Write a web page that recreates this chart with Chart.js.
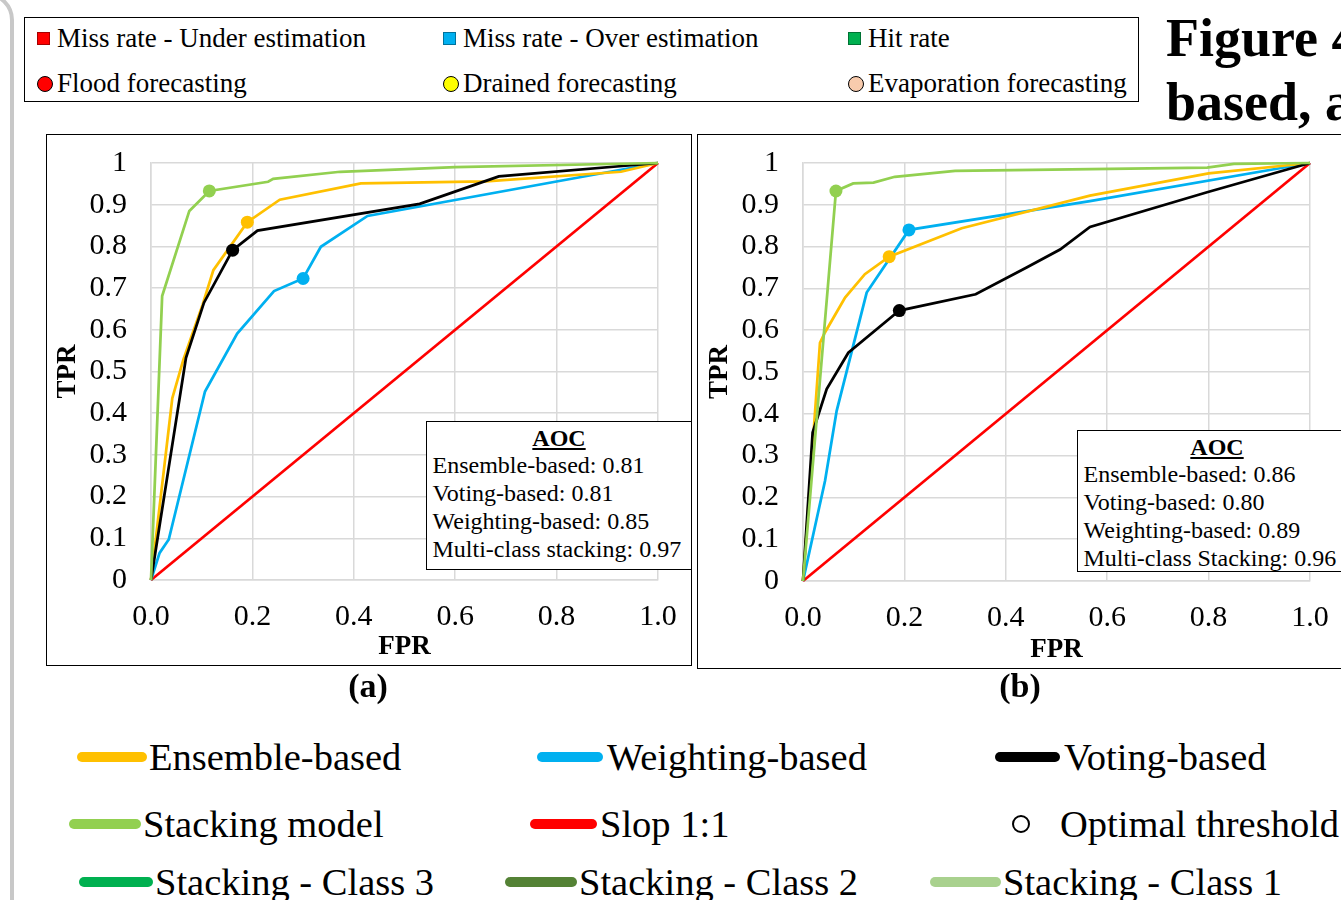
<!DOCTYPE html>
<html>
<head>
<meta charset="utf-8">
<script src="https://cdn.jsdelivr.net/npm/chart.js@4.4.1/dist/chart.umd.min.js"></script>
<style>
html,body{margin:0;padding:0;background:#fff;}
body{width:1341px;height:900px;overflow:hidden;position:relative;font-family:"Liberation Serif","Times New Roman",serif;color:#000;}
.abs{position:absolute;white-space:nowrap;}
.frame{position:absolute;border:1.5px solid #000;box-sizing:border-box;pointer-events:none;background:transparent;}
canvas{position:absolute;}
.txt{position:absolute;white-space:nowrap;line-height:1;}
</style>
</head>
<body>
<div id="sideLine" class="abs" style="left:-200px;top:-8px;width:214px;height:1000px;border:4px solid #c8c8c8;border-radius:0 28px 0 0;box-sizing:border-box;"></div>

<div id="topLegend" class="frame" style="left:24px;top:17px;width:1115px;height:85px;"></div>

<div class="txt" style="left:1166px;top:11px;font-size:54px;font-weight:bold;">Figure 4</div>
<div class="txt" style="left:1166px;top:75px;font-size:54px;font-weight:bold;">based, a</div>

<canvas id="chartA" width="645" height="530" style="left:47px;top:135px;"></canvas>
<div class="frame" style="left:46px;top:134px;width:646px;height:532px;"></div>
<canvas id="chartB" width="660" height="534" style="left:698px;top:135px;"></canvas>
<div class="frame" style="left:697px;top:134px;width:700px;height:535px;"></div>

<div id="aocA" class="frame" style="left:426px;top:421px;width:266px;height:149px;background:#fff;"></div>
<div id="aocB" class="frame" style="left:1077px;top:430px;width:280px;height:142px;background:#fff;"></div>

<div class="txt" style="left:368px;top:669px;font-size:34px;font-weight:bold;transform:translateX(-50%);">(a)</div>
<div class="txt" style="left:1020px;top:669px;font-size:34px;font-weight:bold;transform:translateX(-50%);">(b)</div>

<div id="bottomLegend"></div>

<script>
// ---------- DATA ----------
const xTickLabels = ['0.0', '0.2', '0.4', '0.6', '0.8', '1.0'];
const yTickLabels = ['0', '0.1', '0.2', '0.3', '0.4', '0.5', '0.6', '0.7', '0.8', '0.9', '1'];

// Chart (a)
const ensembleA_fpr = [0, 0.042, 0.064, 0.102, 0.123, 0.19, 0.254, 0.414, 0.661, 0.927, 1];
const ensembleA_tpr = [0, 0.436, 0.529, 0.661, 0.743, 0.858, 0.912, 0.951, 0.956, 0.979, 1];
const votingA_fpr = [0, 0.069, 0.1045, 0.161, 0.21, 0.53, 0.686, 1];
const votingA_tpr = [0, 0.533, 0.665, 0.791, 0.838, 0.902, 0.968, 1];
const weightingA_fpr = [0, 0.017, 0.035, 0.1065, 0.17, 0.2426, 0.30, 0.335, 0.427, 1];
const weightingA_tpr = [0, 0.065, 0.097, 0.452, 0.591, 0.693, 0.723, 0.799, 0.873, 1];
const stackingA_fpr = [0, 0.022, 0.0756, 0.115, 0.231, 0.241, 0.373, 0.6, 1];
const stackingA_tpr = [0, 0.681, 0.885, 0.933, 0.955, 0.962, 0.979, 0.99, 1];
// optimal thresholds: [ensemble, voting, weighting, stacking]
const optimalA_fpr = [0.19, 0.161, 0.30, 0.115];
const optimalA_tpr = [0.858, 0.791, 0.723, 0.933];

// Chart (b)
const ensembleB_fpr = [0, 0.0335, 0.043, 0.083, 0.122, 0.17, 0.313, 0.566, 0.80, 1];
const ensembleB_tpr = [0, 0.57, 0.594, 0.678, 0.734, 0.776, 0.844, 0.922, 0.975, 1];
const votingB_fpr = [0, 0.019, 0.0467, 0.0894, 0.19, 0.3406, 0.441, 0.507, 0.566, 0.797, 1];
const votingB_tpr = [0, 0.355, 0.459, 0.546, 0.647, 0.686, 0.75, 0.793, 0.847, 0.93, 1];
const weightingB_fpr = [0, 0.0434, 0.0664, 0.1256, 0.209, 0.566, 1];
const weightingB_tpr = [0, 0.239, 0.407, 0.69, 0.84, 0.909, 1];
const stackingB_fpr = [0, 0.065, 0.099, 0.139, 0.181, 0.30, 0.797, 0.85, 1];
const stackingB_tpr = [0, 0.933, 0.951, 0.953, 0.967, 0.981, 0.989, 0.998, 1];
const optimalB_fpr = [0.17, 0.19, 0.209, 0.065];
const optimalB_tpr = [0.776, 0.647, 0.84, 0.933];

const slope_fpr = [0, 1];
const slope_tpr = [0, 1];

const aocTitle = 'AOC';
const aocLabelsA = ['Ensemble-based', 'Voting-based', 'Weighting-based', 'Multi-class stacking'];
const aocValuesA = ['0.81', '0.81', '0.85', '0.97'];
const aocLabelsB = ['Ensemble-based', 'Voting-based', 'Weighting-based', 'Multi-class Stacking'];
const aocValuesB = ['0.86', '0.80', '0.89', '0.96'];

const topLegendLabels = ['Miss rate - Under estimation', 'Miss rate - Over estimation', 'Hit rate',
                         'Flood forecasting', 'Drained forecasting', 'Evaporation forecasting'];
const bottomLegendLabels = ['Ensemble-based', 'Weighting-based', 'Voting-based',
                            'Stacking model', 'Slop 1:1', 'Optimal threshold',
                            'Stacking - Class 3', 'Stacking - Class 2', 'Stacking - Class 1'];

// ---------- STYLES ----------
const C = { ens: '#FFC000', wgt: '#00B0F0', vot: '#000000', stk: '#92D050', red: '#FF0000' };
const optColors = [C.ens, C.vot, C.wgt, C.stk];
const topLegendColors = ['#FF0000', '#00B0F0', '#00B050', '#FF0000', '#FFFF00', '#F8CBAD'];
const bottomLegendColors = [C.ens, C.wgt, C.vot, C.stk, C.red, null, '#00B050', '#548235', '#A9D18E'];

// ---------- LEGENDS / TEXT ----------
(function () {
  const tl = document.getElementById('topLegend');
  const colX = [12, 418, 823];
  const rowY = [21, 66];
  topLegendLabels.forEach((lab, i) => {
    const r = Math.floor(i / 3), c = i % 3;
    const mk = document.createElement('div');
    mk.className = 'abs';
    if (r === 0) {
      mk.style.cssText = `left:${colX[c]}px;top:${rowY[r] - 7}px;width:13px;height:13px;background:${topLegendColors[i]};border:1px solid rgba(0,0,0,0.35);box-sizing:border-box;`;
    } else {
      mk.style.cssText = `left:${colX[c]}px;top:${rowY[r] - 8}px;width:16px;height:16px;border-radius:50%;background:${topLegendColors[i]};border:1.5px solid #000;box-sizing:border-box;`;
    }
    tl.appendChild(mk);
    const t = document.createElement('div');
    t.className = 'txt';
    t.style.cssText += `left:${colX[c] + 20}px;top:${rowY[r] - 14}px;font-size:27px;`;
    t.textContent = lab;
    tl.appendChild(t);
  });

  const bl = document.getElementById('bottomLegend');
  const lineX = [[77, 147], [537, 603], [995, 1060], [69, 141], [530, 597], null, [79, 153], [505, 577], [930, 1001]];
  const textX = [149, 607, 1064, 143, 600, 1060, 155, 579, 1003];
  const rowC = [757, 824, 882];
  bottomLegendLabels.forEach((lab, i) => {
    const r = Math.floor(i / 3);
    const cy = rowC[r];
    const mk = document.createElement('div');
    mk.className = 'abs';
    if (lineX[i]) {
      const [a, b] = lineX[i];
      mk.style.cssText = `left:${a}px;top:${cy - 5}px;width:${b - a}px;height:10px;border-radius:5px;background:${bottomLegendColors[i]};`;
    } else {
      mk.style.cssText = `left:1012px;top:${cy - 9}px;width:18px;height:18px;border-radius:50%;border:2px solid #000;box-sizing:border-box;background:#fff;`;
    }
    bl.appendChild(mk);
    const t = document.createElement('div');
    t.className = 'txt';
    t.style.cssText = `left:${textX[i]}px;top:${cy - 19}px;font-size:38.5px;`;
    t.textContent = lab;
    bl.appendChild(t);
  });

  function fillAoc(id, labels, values) {
    const box = document.getElementById(id);
    const h = document.createElement('div');
    h.className = 'txt';
    h.style.cssText = 'left:0;width:100%;text-align:center;top:4px;font-size:24px;font-weight:bold;text-decoration:underline;';
    h.textContent = aocTitle;
    box.appendChild(h);
    labels.forEach((lab, i) => {
      const t = document.createElement('div');
      t.className = 'txt';
      t.style.cssText = `left:5.5px;top:${31 + i * 28}px;font-size:24px;`;
      t.textContent = lab + ': ' + values[i];
      box.appendChild(t);
    });
  }
  fillAoc('aocA', aocLabelsA, aocValuesA);
  fillAoc('aocB', aocLabelsB, aocValuesB);
})();

// ---------- CHARTS ----------
function pts(xs, ys) { return xs.map((x, i) => ({ x: x, y: ys[i] })); }
function lineDs(label, xs, ys, color, w) {
  return { label: label, data: pts(xs, ys), showLine: true, borderColor: color, backgroundColor: color,
           borderWidth: w || 2.75, pointRadius: 0, pointHoverRadius: 0, tension: 0, clip: false };
}

function makeChart(id, d, geom) {
  const FONT = '"Liberation Serif", "Times New Roman", serif';
  return new Chart(document.getElementById(id), {
    type: 'scatter',
    data: {
      datasets: [
        { label: 'Optimal threshold', data: pts(d.optF, d.optT), showLine: false,
          pointRadius: 6.5, pointHoverRadius: 6.5, pointBorderWidth: 0,
          pointBackgroundColor: optColors, pointBorderColor: optColors, clip: false },
        lineDs('Stacking model', d.stkF, d.stkT, C.stk),
        lineDs('Voting-based', d.votF, d.votT, C.vot),
        lineDs('Ensemble-based', d.ensF, d.ensT, C.ens),
        lineDs('Weighting-based', d.wgtF, d.wgtT, C.wgt),
        lineDs('Slop 1:1', slope_fpr, slope_tpr, C.red, 2.75)
      ]
    },
    options: {
      responsive: false,
      animation: false,
      events: [],
      layout: { autoPadding: false, padding: { left: 0, top: geom.top, right: geom.right, bottom: 0 } },
      plugins: { legend: { display: false }, tooltip: { enabled: false } },
      scales: {
        x: {
          type: 'linear', min: 0, max: 1,
          afterFit: (s) => { s.height = geom.xh; s.paddingLeft = 0; s.paddingRight = 0; },
          afterBuildTicks: (s) => { s.ticks = xTickLabels.map(v => ({ value: parseFloat(v) })); },
          ticks: { callback: (v, i) => xTickLabels[i], color: '#000', padding: 19,
                   font: { family: FONT, size: 30 }, maxRotation: 0, autoSkip: false },
          grid: { color: '#d9d9d9', lineWidth: 1.5, drawTicks: false },
          border: { display: true, color: '#d9d9d9', width: 1.5 },
          title: { display: true, text: 'FPR', color: '#000', padding: { top: 0, bottom: geom.xtp },
                   font: { family: FONT, size: 27, weight: 'bold' } }
        },
        y: {
          type: 'linear', min: 0, max: 1,
          afterFit: (s) => { s.width = geom.yw; s.paddingTop = 0; s.paddingBottom = 0; },
          afterBuildTicks: (s) => { s.ticks = yTickLabels.map(v => ({ value: parseFloat(v) })); },
          ticks: { callback: (v, i) => yTickLabels[i], color: '#000', padding: 24,
                   font: { family: FONT, size: 30 }, autoSkip: false },
          grid: { color: '#d9d9d9', lineWidth: 1.5, drawTicks: false },
          border: { display: true, color: '#d9d9d9', width: 1.5 },
          title: { display: true, text: 'TPR', color: '#000', padding: { top: geom.ytp, bottom: 0 },
                   font: { family: FONT, size: 27, weight: 'bold' } }
        }
      }
    }
  });
}

makeChart('chartA', {
  ensF: ensembleA_fpr, ensT: ensembleA_tpr, votF: votingA_fpr, votT: votingA_tpr,
  wgtF: weightingA_fpr, wgtT: weightingA_tpr, stkF: stackingA_fpr, stkT: stackingA_tpr,
  optF: optimalA_fpr, optT: optimalA_tpr
}, { top: 28, right: 34, xh: 85, yw: 104, xtp: 2, ytp: 5 });

makeChart('chartB', {
  ensF: ensembleB_fpr, ensT: ensembleB_tpr, votF: votingB_fpr, votT: votingB_tpr,
  wgtF: weightingB_fpr, wgtT: weightingB_tpr, stkF: stackingB_fpr, stkT: stackingB_tpr,
  optF: optimalB_fpr, optT: optimalB_tpr
}, { top: 28, right: 48, xh: 88, yw: 105, xtp: 3, ytp: 6 });
</script>
</body>
</html>
